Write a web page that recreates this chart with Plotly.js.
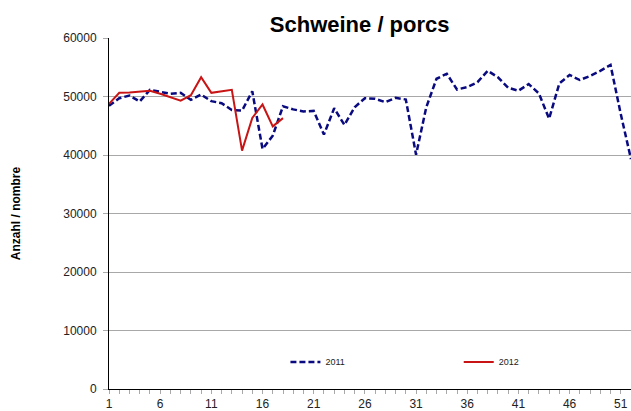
<!DOCTYPE html>
<html>
<head>
<meta charset="utf-8">
<script src="https://cdn.plot.ly/plotly-3.0.1.min.js"></script>
<style>html,body{margin:0;padding:0;background:#fff;}#chart{width:631px;height:411px;}</style>
</head>
<body>
<div id="chart"></div>
<script>
var weeks2011 = [1,2,3,4,5,6,7,8,9,10,11,12,13,14,15,16,17,18,19,20,21,22,23,24,25,26,27,28,29,30,31,32,33,34,35,36,37,38,39,40,41,42,43,44,45,46,47,48,49,50,51,52];
var values2011 = [48400,49700,50170,49140,51140,50740,50460,50630,49430,50340,49200,48860,47700,47600,50900,41030,43300,48340,47800,47450,47540,43490,48000,45140,48170,49710,49600,49030,49770,49490,40060,48170,53030,53890,51200,51600,52450,54400,53280,51490,50980,52130,50520,46210,52240,53680,52820,53510,54370,55400,47000,39300];
var weeks2012 = [1,2,3,4,5,6,7,8,9,10,11,12,13,14,15,16,17,18];
var values2012 = [48740,50630,50690,50800,50970,50460,49890,49300,50230,53300,50630,50860,51140,40740,46340,48630,44900,46300];
var tickVals = [1,6,11,16,21,26,31,36,41,46,51];
var tickText = tickVals.map(String);

var traces = [
  {x: weeks2011, y: values2011, type: 'scatter', mode: 'lines', name: '2011', legend: 'legend',
   line: {color: '#0a0a80', width: 2.5, dash: '6px,3px'}},
  {x: weeks2012, y: values2012, type: 'scatter', mode: 'lines', name: '2012', legend: 'legend2',
   line: {color: '#c81414', width: 2}}
];

var legFont = {size: 9, color: '#222', family: 'Liberation Sans, Arial, sans-serif'};
var layout = {
  width: 631, height: 411,
  margin: {l: 109, r: 0, t: 38, b: 22, pad: 0},
  paper_bgcolor: '#fff', plot_bgcolor: '#fff',
  font: {family: 'Liberation Sans, Arial, sans-serif', size: 12, color: '#222'},
  title: {text: '<b>Schweine / porcs</b>', x: 0.57, xanchor: 'center', y: 0.96, yanchor: 'top',
          font: {size: 22, color: '#000', family: 'Liberation Sans, Arial, sans-serif'}},
  showlegend: true,
  legend: {orientation: 'h', xref: 'paper', yref: 'paper', x: 0.338, xanchor: 'left',
           y: 0.077, yanchor: 'middle', font: legFont, bgcolor: 'rgba(0,0,0,0)', borderwidth: 0},
  legend2: {orientation: 'h', xref: 'paper', yref: 'paper', x: 0.67, xanchor: 'left',
           y: 0.077, yanchor: 'middle', font: legFont, bgcolor: 'rgba(0,0,0,0)', borderwidth: 0},
  xaxis: {range: [1, 52], tickvals: tickVals, ticktext: tickText, showgrid: false, zeroline: false,
          showline: true, linecolor: '#000', linewidth: 1, ticks: 'outside', ticklen: 4, tickcolor: '#aaa',
          minor: {dtick: 1, ticks: 'outside', ticklen: 4, tickcolor: '#aaa', showgrid: false},
          tickfont: {size: 12, color: '#222'}, fixedrange: true},
  yaxis: {range: [0, 60000], dtick: 10000, showgrid: true, gridcolor: '#a8a8a8', gridwidth: 1,
          zeroline: false, showline: true, linecolor: '#000', linewidth: 1,
          ticks: 'outside', ticklen: 5, tickcolor: '#aaa', tickformat: 'd', ticklabelstandoff: 4,
          tickfont: {size: 12, color: '#222'},
          title: {text: '<b>Anzahl / nombre</b>', standoff: 40, font: {size: 12, color: '#000'}}}
};

Plotly.newPlot('chart', traces, layout, {displayModeBar: false, staticPlot: true});
</script>
</body>
</html>
